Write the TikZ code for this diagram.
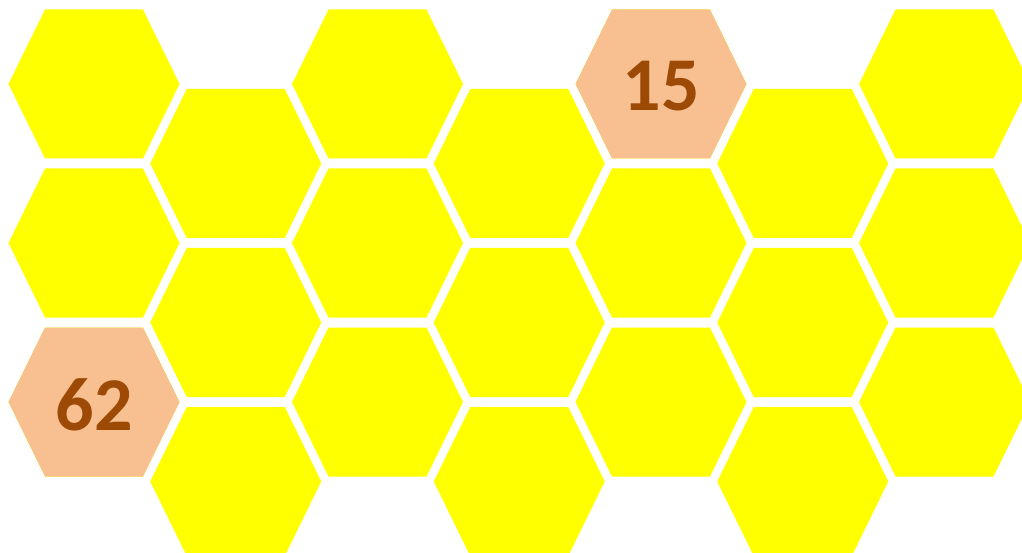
\documentclass[tikz,border=0pt]{standalone}
\usepackage{fontspec}
\setmainfont{Carlito}
\definecolor{hexyellow}{HTML}{FFFF00}
\definecolor{hexorange}{HTML}{F8C090}
\definecolor{numbrown}{HTML}{9C4A06}
\tikzset{
  hexcell/.style={fill=hexyellow},
  hexhot/.style={fill=hexorange},
  numlabel/.style={text=numbrown,inner sep=0pt,font=\fontsize{76}{76}\selectfont\bfseries}
}
\newcommand\hexcellat[3]{%
  \fill[#3,shift={(#1,#2)}] (-85.5,0) -- (-49,-74.5) -- (49,-74.5) -- (85.5,0) -- (49,74.5) -- (-49,74.5) -- cycle;}
\begin{document}
\begin{tikzpicture}[x=1pt,y=-1pt]
\useasboundingbox (0,0) rectangle (1022,553);
\clip (0,0) rectangle (1022,553);
\foreach \i in {0,2,4,6}{
  \foreach \j in {0,1,2}{
    \pgfmathsetmacro\cx{94+141.75*\i}
    \pgfmathsetmacro\cy{84+159*\j}
    \hexcellat{\cx}{\cy}{hexcell}
  }
}
\foreach \i in {1,3,5}{
  \foreach \j in {0,1,2}{
    \pgfmathsetmacro\cx{94+141.75*\i}
    \pgfmathsetmacro\cy{163.5+159*\j}
    \hexcellat{\cx}{\cy}{hexcell}
  }
}
\hexcellat{661}{84}{hexhot}
\hexcellat{94}{402}{hexhot}
\node[numlabel] (n15) at (661,86.5) {15};
\node[numlabel] (n62) at (94,404.5) {62};
\end{tikzpicture}
\end{document}
